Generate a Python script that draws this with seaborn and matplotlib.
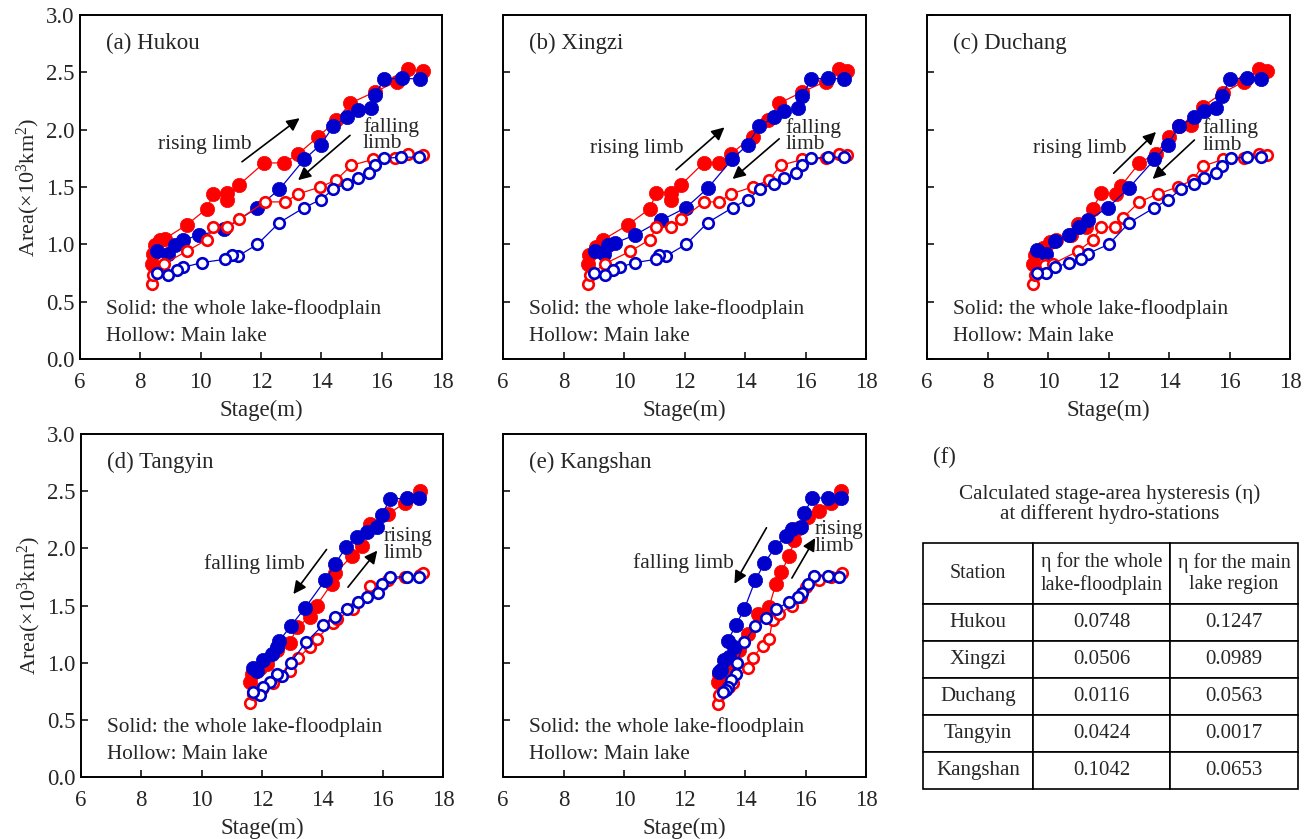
import matplotlib
matplotlib.use("Agg")
import matplotlib.pyplot as plt
import seaborn as sns

# ---------------- data ----------------
stations = ["Hukou", "Xingzi", "Duchang", "Tangyin", "Kangshan"]
panel_tags = ["(a)", "(b)", "(c)", "(d)", "(e)"]

# Hukou
hk_wr_s = [8.38, 8.41, 8.49, 8.65, 8.82, 9.54, 10.20, 10.42, 10.86, 10.86, 11.28, 12.10, 12.76, 13.24, 13.90, 14.50, 14.95, 15.78, 16.50, 16.88, 17.38]
hk_wr_a = [0.83, 0.92, 0.99, 1.04, 1.05, 1.17, 1.31, 1.44, 1.45, 1.39, 1.52, 1.71, 1.71, 1.79, 1.94, 2.08, 2.23, 2.33, 2.42, 2.53, 2.51]
hk_wf_s = [17.27, 16.66, 16.08, 15.78, 15.64, 15.23, 14.84, 14.40, 13.98, 13.43, 12.61, 11.88, 10.77, 9.96, 9.43, 9.15, 8.91, 8.54]
hk_wf_a = [2.44, 2.45, 2.44, 2.30, 2.19, 2.17, 2.11, 2.03, 1.87, 1.74, 1.48, 1.32, 1.13, 1.08, 1.04, 0.99, 0.92, 0.94]
hk_mr_s = [8.38, 8.43, 8.78, 9.54, 10.20, 10.42, 10.86, 11.28, 12.13, 12.80, 13.24, 13.96, 14.49, 15.00, 15.72, 16.44, 16.88, 17.38]
hk_mr_a = [0.65, 0.73, 0.83, 0.94, 1.04, 1.15, 1.15, 1.22, 1.37, 1.37, 1.44, 1.50, 1.56, 1.69, 1.74, 1.75, 1.79, 1.78]
hk_mf_s = [17.25, 16.63, 16.08, 15.78, 15.59, 15.23, 14.84, 14.40, 13.98, 13.43, 12.61, 11.88, 11.25, 11.03, 10.81, 10.03, 9.43, 9.20, 8.91, 8.54]
hk_mf_a = [1.76, 1.76, 1.75, 1.69, 1.62, 1.58, 1.53, 1.48, 1.39, 1.32, 1.19, 1.00, 0.90, 0.91, 0.87, 0.84, 0.80, 0.78, 0.73, 0.75]

# Xingzi
xz_wr_s = [8.81, 8.85, 9.09, 9.31, 10.13, 10.85, 11.07, 11.56, 11.56, 11.89, 12.63, 13.15, 13.54, 14.25, 14.75, 15.13, 15.90, 16.67, 17.11, 17.38]
xz_wr_a = [0.83, 0.91, 0.98, 1.04, 1.17, 1.31, 1.45, 1.45, 1.39, 1.52, 1.71, 1.71, 1.79, 1.94, 2.08, 2.23, 2.33, 2.42, 2.53, 2.51]
xz_wf_s = [17.27, 16.73, 16.18, 15.90, 15.74, 15.30, 14.97, 14.47, 14.09, 13.57, 12.77, 12.05, 11.23, 10.35, 9.69, 9.47, 9.33, 9.03]
xz_wf_a = [2.44, 2.45, 2.44, 2.29, 2.19, 2.16, 2.11, 2.03, 1.87, 1.74, 1.49, 1.32, 1.21, 1.08, 1.01, 0.99, 0.92, 0.94]
xz_mr_s = [8.81, 8.87, 9.36, 10.21, 10.85, 11.07, 11.56, 11.89, 12.66, 13.15, 13.54, 14.25, 14.78, 15.19, 15.90, 16.67, 17.11, 17.38]
xz_mr_a = [0.65, 0.73, 0.83, 0.94, 1.04, 1.15, 1.15, 1.22, 1.37, 1.37, 1.44, 1.50, 1.56, 1.69, 1.74, 1.75, 1.79, 1.78]
xz_mf_s = [17.27, 16.73, 16.18, 15.90, 15.70, 15.30, 14.97, 14.49, 14.09, 13.59, 12.77, 12.05, 11.40, 11.15, 11.07, 10.35, 9.86, 9.64, 9.36, 9.00]
xz_mf_a = [1.76, 1.76, 1.75, 1.69, 1.62, 1.58, 1.53, 1.48, 1.39, 1.32, 1.19, 1.00, 0.90, 0.91, 0.87, 0.84, 0.80, 0.78, 0.73, 0.75]

# Duchang
dc_wr_s = [9.51, 9.56, 9.84, 10.05, 10.27, 10.77, 10.99, 11.26, 11.48, 11.76, 12.25, 12.42, 13.02, 13.57, 14.01, 14.34, 14.73, 15.11, 15.77, 16.48, 16.98, 17.25]
dc_wr_a = [0.83, 0.91, 0.97, 1.02, 1.04, 1.08, 1.18, 1.15, 1.31, 1.45, 1.44, 1.51, 1.71, 1.79, 1.94, 2.03, 2.04, 2.20, 2.32, 2.42, 2.53, 2.51]
dc_wf_s = [17.03, 16.59, 16.01, 15.75, 15.55, 15.16, 14.84, 14.34, 13.96, 13.52, 12.67, 11.98, 11.32, 11.04, 10.71, 10.22, 9.95, 9.64]
dc_wf_a = [2.44, 2.45, 2.44, 2.29, 2.19, 2.16, 2.11, 2.03, 1.87, 1.74, 1.49, 1.32, 1.21, 1.15, 1.08, 1.03, 0.92, 0.95]
dc_mr_s = [9.51, 9.56, 9.89, 10.16, 10.99, 11.48, 11.76, 12.20, 12.47, 13.02, 13.63, 14.29, 14.78, 15.11, 15.77, 16.48, 16.98, 17.25]
dc_mr_a = [0.65, 0.73, 0.82, 0.83, 0.94, 1.04, 1.15, 1.15, 1.23, 1.37, 1.44, 1.50, 1.56, 1.68, 1.74, 1.75, 1.79, 1.78]
dc_mf_s = [17.03, 16.59, 16.04, 15.75, 15.55, 15.16, 14.84, 14.40, 13.96, 13.52, 12.69, 12.01, 11.32, 11.10, 10.71, 10.22, 9.95, 9.64]
dc_mf_a = [1.76, 1.76, 1.75, 1.68, 1.62, 1.58, 1.53, 1.48, 1.39, 1.32, 1.19, 1.00, 0.92, 0.87, 0.84, 0.80, 0.75, 0.75]

# Tangyin
ty_wr_s = [11.60, 11.66, 11.93, 12.15, 12.49, 12.93, 13.15, 13.59, 13.81, 14.31, 14.42, 14.97, 15.30, 15.58, 16.19, 16.74, 17.24]
ty_wr_a = [0.83, 0.90, 0.95, 0.99, 1.11, 1.17, 1.31, 1.40, 1.50, 1.69, 1.78, 1.93, 2.02, 2.21, 2.30, 2.40, 2.50]
ty_wf_s = [17.22, 16.80, 16.24, 15.97, 15.80, 15.47, 15.16, 14.78, 14.42, 14.09, 13.43, 12.95, 12.57, 12.49, 12.32, 12.04, 11.82, 11.71]
ty_wf_a = [2.44, 2.44, 2.43, 2.29, 2.19, 2.14, 2.10, 2.01, 1.86, 1.72, 1.48, 1.32, 1.19, 1.14, 1.08, 1.02, 0.93, 0.95]
ty_mr_s = [11.60, 11.71, 11.99, 12.38, 12.60, 12.93, 13.20, 13.59, 13.81, 14.36, 14.47, 15.03, 15.58, 16.19, 16.74, 17.24, 17.35]
ty_mr_a = [0.65, 0.73, 0.77, 0.82, 0.88, 0.93, 1.04, 1.14, 1.21, 1.35, 1.38, 1.47, 1.67, 1.72, 1.75, 1.77, 1.78]
ty_mf_s = [17.22, 16.80, 16.24, 15.97, 15.86, 15.49, 15.19, 14.81, 14.42, 14.03, 13.46, 12.95, 12.65, 12.49, 12.27, 12.04, 11.93, 11.71]
ty_mf_a = [1.75, 1.75, 1.75, 1.69, 1.61, 1.57, 1.53, 1.47, 1.40, 1.33, 1.18, 1.00, 0.88, 0.90, 0.83, 0.79, 0.72, 0.74]

# Kangshan
ks_wr_s = [13.10, 13.15, 13.48, 13.59, 13.81, 14.09, 14.42, 14.80, 15.02, 15.19, 15.46, 15.63, 15.79, 16.07, 16.45, 16.84, 17.16]
ks_wr_a = [0.83, 0.90, 0.96, 0.99, 1.11, 1.25, 1.43, 1.49, 1.69, 1.79, 1.93, 2.07, 2.18, 2.27, 2.33, 2.40, 2.50]
ks_wf_s = [17.16, 16.73, 16.23, 15.96, 15.85, 15.57, 15.37, 15.00, 14.64, 14.34, 13.98, 13.70, 13.43, 13.65, 13.48, 13.32, 13.21, 13.15]
ks_wf_a = [2.44, 2.44, 2.44, 2.31, 2.19, 2.17, 2.11, 2.01, 1.87, 1.72, 1.47, 1.33, 1.19, 1.14, 1.05, 1.02, 0.94, 0.92]
ks_mr_s = [13.10, 13.15, 13.48, 13.59, 14.09, 14.25, 14.58, 14.80, 14.91, 15.13, 15.57, 15.85, 16.01, 16.45, 16.84, 17.22]
ks_mr_a = [0.64, 0.72, 0.79, 0.82, 0.95, 1.04, 1.15, 1.21, 1.37, 1.43, 1.50, 1.57, 1.66, 1.72, 1.75, 1.78]
ks_mf_s = [17.11, 16.73, 16.29, 16.07, 15.90, 15.74, 15.44, 15.04, 14.69, 14.34, 13.98, 13.73, 13.70, 13.54, 13.43, 13.37, 13.26]
ks_mf_a = [1.75, 1.76, 1.76, 1.69, 1.61, 1.57, 1.53, 1.47, 1.39, 1.32, 1.18, 1.00, 0.90, 0.85, 0.79, 0.76, 0.74]

# table (f)
table_header = ["Station", "η for the whole\nlake-floodplain", "η for the main\nlake region"]
eta_whole = ["0.0748", "0.0506", "0.0116", "0.0424", "0.1042"]
eta_main = ["0.1247", "0.0989", "0.0563", "0.0017", "0.0653"]

x_ticks = [6, 8, 10, 12, 14, 16, 18]
y_ticks = [0.0, 0.5, 1.0, 1.5, 2.0, 2.5, 3.0]

# ---------------- style ----------------
sns.set_style("ticks")
plt.rcParams["font.family"] = ["Liberation Serif", "DejaVu Serif"]
plt.rcParams["mathtext.fontset"] = "custom"
plt.rcParams["mathtext.rm"] = "Liberation Serif"
plt.rcParams["mathtext.it"] = "Liberation Serif:italic"

RED = "#FF0000"
BLUE = "#0000CD"

series = {
    "Hukou": (hk_wr_s, hk_wr_a, hk_wf_s, hk_wf_a, hk_mr_s, hk_mr_a, hk_mf_s, hk_mf_a),
    "Xingzi": (xz_wr_s, xz_wr_a, xz_wf_s, xz_wf_a, xz_mr_s, xz_mr_a, xz_mf_s, xz_mf_a),
    "Duchang": (dc_wr_s, dc_wr_a, dc_wf_s, dc_wf_a, dc_mr_s, dc_mr_a, dc_mf_s, dc_mf_a),
    "Tangyin": (ty_wr_s, ty_wr_a, ty_wf_s, ty_wf_a, ty_mr_s, ty_mr_a, ty_mf_s, ty_mf_a),
    "Kangshan": (ks_wr_s, ks_wr_a, ks_wf_s, ks_wf_a, ks_mr_s, ks_mr_a, ks_mf_s, ks_mf_a),
}

# layout: axes rectangles (figure fraction)
W, H = 1309, 839
def rect(l, t, r, b):
    return [l / W, 1 - b / H, (r - l) / W, (b - t) / H]

axes_rects = [
    rect(80, 15, 442, 359),
    rect(503, 15, 866, 359),
    rect(927, 15, 1290, 359),
    rect(81, 434, 443, 777),
    rect(503, 434, 866, 777),
]

# annotations: (text pos, text), arrow start/end
annots = {
    "Hukou": dict(rt=(8.59, 1.87, "rising limb"), ra=((11.37, 1.72), (13.28, 2.10)),
                  ft=(15.38, 1.955, "falling\nlimb"), fa=((14.95, 1.95), (13.23, 1.56))),
    "Xingzi": dict(rt=(8.87, 1.84, "rising limb"), ra=((11.72, 1.65), (13.32, 2.02)),
                   ft=(15.33, 1.945, "falling\nlimb"), fa=((15.13, 1.92), (13.59, 1.57))),
    "Duchang": dict(rt=(9.49, 1.84, "rising limb"), ra=((12.17, 1.62), (13.57, 1.98)),
                    ft=(15.10, 1.94, "falling\nlimb"), fa=((14.84, 1.91), (13.46, 1.57))),
    "Tangyin": dict(rt=(16.03, 2.03, "rising\nlimb"), ra=((14.85, 1.66), (15.82, 1.98)),
                    ft=(10.07, 1.86, "falling limb"), fa=((14.14, 1.99), (13.04, 1.60))),
    "Kangshan": dict(rt=(16.29, 2.09, "rising\nlimb"), ra=((15.55, 1.74), (16.32, 2.09)),
                     ft=(10.29, 1.87, "falling limb"), fa=((14.71, 2.18), (13.65, 1.69))),
}

fig = plt.figure(figsize=(W / 100, H / 100), dpi=100)

for i, st in enumerate(stations):
    ax = fig.add_axes(axes_rects[i])
    wr_s, wr_a, wf_s, wf_a, mr_s, mr_a, mf_s, mf_a = series[st]
    common = dict(sort=False, estimator=None, linewidth=0.9, marker="o", ax=ax, legend=False)
    sns.lineplot(x=wr_s, y=wr_a, color=RED, markersize=10.3, markerfacecolor=RED,
                 markeredgecolor=RED, markeredgewidth=0.5, zorder=3, **common)
    sns.lineplot(x=wf_s, y=wf_a, color=BLUE, markersize=10.3, markerfacecolor=BLUE,
                 markeredgecolor=BLUE, markeredgewidth=0.5, zorder=4, **common)
    sns.lineplot(x=mr_s, y=mr_a, color=RED, markersize=7.6, markerfacecolor="white",
                 markeredgecolor=RED, markeredgewidth=1.9, zorder=5, **common)
    sns.lineplot(x=mf_s, y=mf_a, color=BLUE, markersize=7.6, markerfacecolor="white",
                 markeredgecolor=BLUE, markeredgewidth=1.9, zorder=6, **common)

    ax.set_xlim(6, 18)
    ax.set_ylim(0, 3)
    ax.set_xticks(x_ticks)
    ax.set_yticks(y_ticks)
    ax.set_xticklabels([str(v) for v in x_ticks])
    if i in (0, 3):
        ax.set_yticklabels([f"{v:.1f}" for v in y_ticks])
        ax.set_ylabel("Area(×10$^3$km$^2$)", fontsize=16, labelpad=3)
    else:
        ax.set_yticklabels([])
        ax.set_ylabel("")
    ax.set_xlabel("Stage(m)", fontsize=16.5, labelpad=5)
    ax.tick_params(axis="both", direction="in", length=5, width=1.3, labelsize=16.5,
                   top=False, right=False, pad=4)
    ax.tick_params(axis="x", pad=9)
    for sp in ax.spines.values():
        sp.set_visible(True)
        sp.set_linewidth(1.4)
        sp.set_color("black")

    ax.text(0.072, 0.918, f"{panel_tags[i]} {st}", transform=ax.transAxes,
            fontsize=16.5, va="center", ha="left")
    ax.text(0.072, 0.145, "Solid: the whole lake-floodplain", transform=ax.transAxes,
            fontsize=15.3, va="center", ha="left")
    ax.text(0.072, 0.066, "Hollow: Main lake", transform=ax.transAxes,
            fontsize=15.3, va="center", ha="left")

    an = annots[st]
    for tkey, akey in (("rt", "ra"), ("ft", "fa")):
        tx, ty, tt = an[tkey]
        ax.text(tx, ty, tt, fontsize=15.5, ha="left", va="center", linespacing=0.8, zorder=7)
        (x0, y0), (x1, y1) = an[akey]
        ax.annotate("", xy=(x1, y1), xytext=(x0, y0),
                    arrowprops=dict(arrowstyle="-|>", color="black", lw=1.2,
                                    mutation_scale=19, shrinkA=0, shrinkB=0), zorder=7)

# ---------------- panel (f): table ----------------
fig.text(933 / W, 1 - 457 / H, "(f)", fontsize=16.5, ha="left", va="center")
fig.text(1110 / W, 1 - 504 / H, "Calculated stage-area hysteresis (η)\nat different hydro-stations",
         fontsize=15.2, ha="center", va="center", linespacing=1.05)

tax = fig.add_axes(rect(923, 543, 1298, 789))
tax.axis("off")
cell_text = [[s, a, b] for s, a, b in zip(stations, eta_whole, eta_main)]
tbl = tax.table(cellText=cell_text, colLabels=table_header, cellLoc="center",
                colWidths=[110, 137, 128], bbox=[0, 0, 1, 1])
tbl.auto_set_font_size(False)
tbl.set_fontsize(15)
for (r, c), cell in tbl.get_celld().items():
    cell.set_linewidth(1.2)
    cell.set_edgecolor("black")
    cell.set_height(61 if r == 0 else 37)
    cell.get_text().set_linespacing(1.15)
    if r == 0:
        cell.get_text().set_fontsize(14.3)

fig.savefig("out.png", dpi=100)
